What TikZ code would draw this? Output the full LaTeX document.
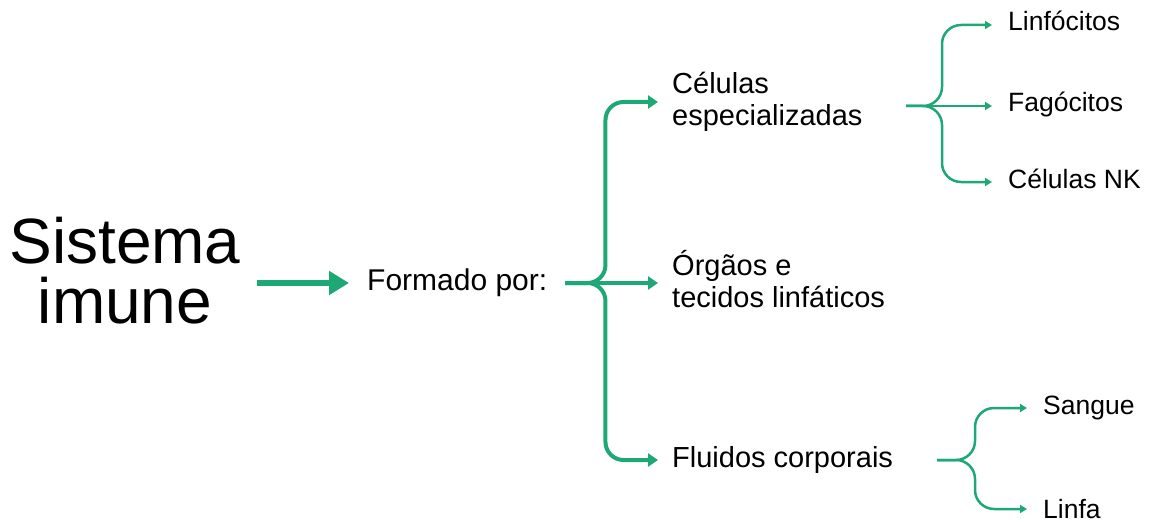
\documentclass[tikz,border=0pt]{standalone}
\usepackage{fontspec}
\setmainfont{Liberation Sans}
\usepackage{xcolor}
\usetikzlibrary{shapes,arrows.meta,positioning}

\definecolor{imgreen}{RGB}{30,168,118}

\begin{document}
\begin{tikzpicture}[x=1pt, y=-1pt,
  big/.style={-{Triangle[length=20pt,width=23pt]}, draw=imgreen, line width=6.5pt},
  branch/.style={-{Triangle[length=10pt,width=13pt]}, draw=imgreen, line width=4pt, rounded corners=18pt},
  twig/.style={-{Triangle[length=7pt,width=8pt]}, draw=imgreen, line width=2.5pt, rounded corners=19pt},
  mid/.style={anchor=west, inner xsep=14pt, inner ysep=0pt, align=left, font=\fontsize{29}{32}\selectfont},
  leaf/.style={anchor=west, inner xsep=16pt, inner ysep=0pt, text height=18pt, text depth=6pt, font=\fontsize{26.5}{30}\selectfont}]
\useasboundingbox (0,0) rectangle (1153,524);

\node (sistema) [inner xsep=16pt, inner ysep=0pt, align=center, font=\fontsize{64}{60}\selectfont] at (125,271) {Sistema\\imune};
\node (formado) [anchor=west, inner xsep=18pt, inner ysep=0pt, text height=21pt, text depth=7pt, font=\fontsize{30}{32}\selectfont] at (349,283) {Formado por:};

\node (celulas) [mid] at (658,102) {Células\\especializadas};
\node (orgaos) [mid] at (658,279) {Órgãos e\\tecidos linfáticos};
\node (fluidos) [mid, text height=21pt, text depth=6pt] at (658,460) {Fluidos corporais};

\node (linfocitos) [leaf] at (992,25) {Linfócitos};
\node (fagocitos) [leaf] at (992,106) {Fagócitos};
\node (nk) [leaf] at (992,182) {Células NK};
\node (sangue) [leaf] at (1027,408) {Sangue};
\node (linfa) [leaf, text depth=0pt] at (1027,509) {Linfa};

\coordinate (celstem) at (906,106);
\coordinate (flustem) at (937,460);

% main arrow
\draw[big] (sistema.east |- formado.west) -- (formado.west);

% first brace
\draw[branch] (formado.east) -- ++(40,0) |- (celulas.west);
\draw[branch] (formado.east) -- (orgaos.west |- formado.east);
\draw[branch] (formado.east) -- ++(40,0) |- (fluidos.west);

% cells
\draw[twig] (celstem) -- ++(36,0) |- (linfocitos.west);
\draw[twig] (celstem) -- (fagocitos.west);
\draw[twig] (celstem) -- ++(36,0) |- (nk.west);

% fluids
\draw[twig] (flustem) -- ++(38,0) |- (sangue.west);
\draw[twig] (flustem) -- ++(38,0) |- (linfa.west);
\end{tikzpicture}
\end{document}
